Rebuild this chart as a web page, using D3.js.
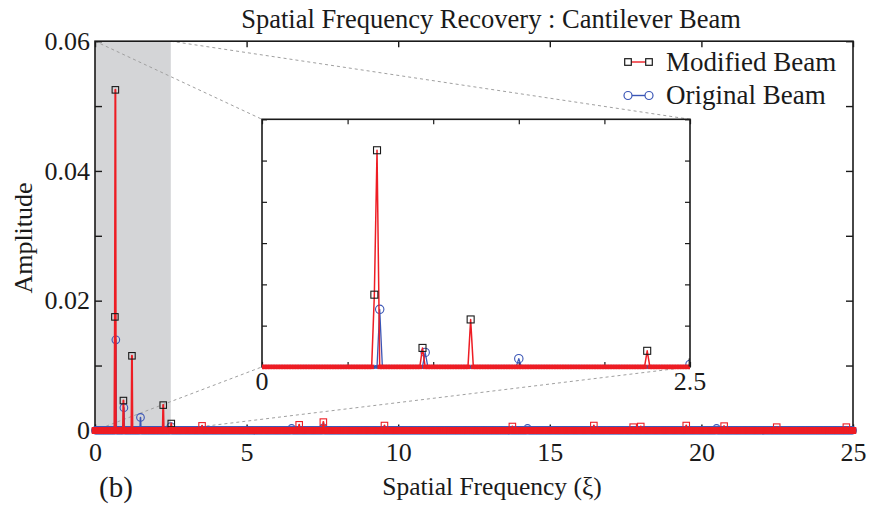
<!DOCTYPE html>
<html>
<head>
<meta charset="utf-8">
<script src="https://cdn.jsdelivr.net/npm/d3@7"></script>
<style>
  html, body { margin: 0; padding: 0; background: #fff; }
  svg { display: block; font-family: "Liberation Serif", "Times New Roman", serif; }
</style>
</head>
<body>
<svg id="chart" width="874" height="510"></svg>
<script>
// Sampling step of the spatial-frequency grid
const freqStep = 1 / 64;
const freqMax = 25;

// Modified beam: non-zero spectral lines (frequency, amplitude)
const modPeakFreq = [0.656, 0.672, 0.9375, 1.219, 2.25, 2.516, 3.531, 6.734, 7.531, 9.547,
                     13.766, 16.45, 17.75, 18.0, 19.5, 20.75, 22.48, 24.78];
const modPeakAmp  = [0.0175, 0.0525, 0.0046, 0.0115, 0.0039, 0.00106, 0.0007, 0.00086, 0.00128, 0.00075,
                     0.0006, 0.00075, 0.0005, 0.0006, 0.00075, 0.00066, 0.0005, 0.0005];

// Original beam: non-zero spectral lines
const origPeakFreq = [0.6875, 0.953, 1.5, 2.5, 6.48, 7.53, 14.27, 20.5];
const origPeakAmp  = [0.01396, 0.0035, 0.002, 0.0006, 0.0003, 0.0004, 0.0003, 0.0003];

// Axis ticks and labels
const xTicks = [0, 5, 10, 15, 20, 25];
const yTicks = [0, 0.01, 0.02, 0.03, 0.04, 0.05, 0.06];
const yLabels = [0, 0.02, 0.04, 0.06];
const insetXTicks = [0, 0.5, 1, 1.5, 2, 2.5];
const insetXLabels = [0, 2.5];
const insetYTicks = [0, 0.01, 0.02, 0.03, 0.04, 0.05, 0.06];
const zoomRange = [0, 2.5];

const seriesNames = ["Modified Beam", "Original Beam"];
const titleText = "Spatial Frequency Recovery : Cantilever Beam";

const RED = "#ee1d24", BLUE = "#3b56b6", BLACK = "#1a1a1a";

// Spectrum on the frequency grid: zero everywhere except the listed lines
const freqGrid = d3.range(0, freqMax + freqStep / 2, freqStep);
function spectrum(freqs, amps) {
  const vals = freqGrid.map(() => 0);
  freqs.forEach((f, i) => { vals[Math.round(f / freqStep)] = amps[i]; });
  return freqGrid.map((f, i) => ({ f, v: vals[i] }));
}
const modified = spectrum(modPeakFreq, modPeakAmp);
const original = spectrum(origPeakFreq, origPeakAmp);

const svg = d3.select("#chart");

// ---- main axes ----
const x = d3.scaleLinear().domain([0, 25]).range([95, 853]);
const y = d3.scaleLinear().domain([0, 0.06]).range([430.4, 41.2]);

// shaded zoom window
svg.append("rect")
  .attr("x", x(zoomRange[0])).attr("y", y(0.06))
  .attr("width", x(zoomRange[1]) - x(zoomRange[0]))
  .attr("height", y(0) - y(0.06))
  .attr("fill", "#d4d5d7");

// ---- inset scales ----
const xi = d3.scaleLinear().domain(zoomRange).range([262, 690]);
const yi = d3.scaleLinear().domain([0, 0.06]).range([366.9, 119.3]);

// dashed connectors between zoom window and inset
const connectors = [
  [[x(zoomRange[0]), y(0.06)], [xi(zoomRange[0]), yi(0.06)]],
  [[x(zoomRange[1]), y(0.06)], [xi(zoomRange[1]), yi(0.06)]],
  [[x(zoomRange[0]), y(0)], [xi(zoomRange[0]), yi(0)]],
  [[x(zoomRange[1]), y(0)], [xi(zoomRange[1]), yi(0)]]
];
svg.append("g").selectAll("line").data(connectors).join("line")
  .attr("x1", d => d[0][0]).attr("y1", d => d[0][1])
  .attr("x2", d => d[1][0]).attr("y2", d => d[1][1])
  .attr("stroke", "#a0a0a0").attr("stroke-width", 1)
  .attr("stroke-dasharray", "3,3");

// draws one stem-like spectrum (line + markers) into a group
function drawSeries(g, data, sx, sy, opt) {
  g.append("path")
    .datum(data)
    .attr("fill", "none")
    .attr("stroke", opt.lineColor)
    .attr("stroke-width", opt.lineWidth)
    .attr("stroke-linejoin", "round")
    .attr("d", d3.line().x(d => sx(d.f)).y(d => sy(d.v)));
  if (opt.shape === "square") {
    g.append("g").selectAll("rect").data(data).join("rect")
      .attr("x", d => sx(d.f) - opt.size(d) / 2)
      .attr("y", d => sy(d.v) - opt.size(d) / 2)
      .attr("width", d => opt.size(d))
      .attr("height", d => opt.size(d))
      .attr("fill", d => d.v > 0 ? "none" : RED)
      .attr("stroke", d => opt.markerColor(d))
      .attr("stroke-width", 1.1);
  } else {
    g.append("g").selectAll("circle").data(data).join("circle")
      .attr("cx", d => sx(d.f))
      .attr("cy", d => sy(d.v))
      .attr("r", d => opt.size(d))
      .attr("fill", "none")
      .attr("stroke", BLUE)
      .attr("stroke-width", 1.1);
  }
}

// main axes frame and inward ticks (drawn beneath the data)
const axes = svg.append("g").attr("font-size", 26).attr("fill", BLACK);
axes.append("rect")
  .attr("x", x(0)).attr("y", y(0.06))
  .attr("width", x(25) - x(0)).attr("height", y(0) - y(0.06))
  .attr("fill", "none").attr("stroke", BLACK).attr("stroke-width", 1.6);
function tickAxis(axisGen, transform) {
  const g = axes.append("g").attr("transform", transform).call(axisGen);
  g.select(".domain").remove();
  g.selectAll(".tick line").attr("stroke", BLACK).attr("stroke-width", 1.4);
  return g;
}
tickAxis(d3.axisBottom(x).tickValues(xTicks).tickSize(-6).tickFormat(""), `translate(0,${y(0)})`);
tickAxis(d3.axisTop(x).tickValues(xTicks).tickSize(-6).tickFormat(""), `translate(0,${y(0.06)})`);
tickAxis(d3.axisLeft(y).tickValues(yTicks).tickSize(-7).tickFormat(""), `translate(${x(0)},0)`);
tickAxis(d3.axisRight(y).tickValues(yTicks).tickSize(-7).tickFormat(""), `translate(${x(25)},0)`);

// tick labels
const xl = axes.append("g").attr("transform", `translate(0,${y(0)})`)
  .call(d3.axisBottom(x).tickValues(xTicks).tickSize(0).tickPadding(12).tickFormat(d3.format("d")));
xl.select(".domain").remove();
xl.selectAll("text").attr("font-size", 26).attr("font-family", "Liberation Serif").attr("fill", BLACK);

const yl = axes.append("g").attr("transform", `translate(${x(0)},0)`)
  .call(d3.axisLeft(y).tickValues(yLabels).tickSize(0).tickPadding(5)
    .tickFormat(d => d === 0 ? "0" : d3.format(".2f")(d)));
yl.select(".domain").remove();
yl.selectAll("text").attr("font-size", 26).attr("font-family", "Liberation Serif").attr("fill", BLACK);

// main spectra
const mainG = svg.append("g");
drawSeries(mainG, original, x, y, {
  lineColor: BLUE, lineWidth: 1.6, shape: "circle",
  size: d => d.v > 0 ? 3.8 : 3.3
});
drawSeries(mainG, modified, x, y, {
  lineColor: RED, lineWidth: 2, shape: "square",
  size: d => d.v > 0 ? 6.5 : 5.6,
  markerColor: d => (d.v > 0 && d.f < 2.6) ? BLACK : RED
});

// ---- inset ----
const inset = svg.append("g");
inset.append("rect")
  .attr("x", xi(0)).attr("y", yi(0.06))
  .attr("width", xi(2.5) - xi(0)).attr("height", yi(0) - yi(0.06))
  .attr("fill", "#fff").attr("stroke", BLACK).attr("stroke-width", 1.6);

function insetTicks(axisGen, transform) {
  const g = inset.append("g").attr("transform", transform).call(axisGen);
  g.select(".domain").remove();
  g.selectAll(".tick line").attr("stroke", BLACK).attr("stroke-width", 1.2);
}
insetTicks(d3.axisBottom(xi).tickValues(insetXTicks).tickSize(-5).tickFormat(""), `translate(0,${yi(0)})`);
insetTicks(d3.axisTop(xi).tickValues(insetXTicks).tickSize(-5).tickFormat(""), `translate(0,${yi(0.06)})`);
insetTicks(d3.axisLeft(yi).tickValues(insetYTicks).tickSize(-5).tickFormat(""), `translate(${xi(0)},0)`);
insetTicks(d3.axisRight(yi).tickValues(insetYTicks).tickSize(-5).tickFormat(""), `translate(${xi(2.5)},0)`);

svg.append("defs").append("clipPath").attr("id", "insetClip")
  .append("rect")
  .attr("x", xi(0)).attr("y", yi(0.06))
  .attr("width", xi(2.5) - xi(0)).attr("height", yi(0) - yi(0.06) + 6);

const insetData = d => d.f <= 2.6;
const insetG = inset.append("g").attr("clip-path", "url(#insetClip)");
drawSeries(insetG, original.filter(insetData), xi, yi, {
  lineColor: BLUE, lineWidth: 1.3, shape: "circle",
  size: d => d.v > 0 ? 4.2 : 1.6
});
drawSeries(insetG, modified.filter(insetData), xi, yi, {
  lineColor: RED, lineWidth: 1.5, shape: "square",
  size: d => d.v > 0 ? 7 : 3.4,
  markerColor: d => d.v > 0 ? BLACK : RED
});

inset.append("g").selectAll("text").data(insetXLabels).join("text")
  .attr("x", d => xi(d)).attr("y", yi(0) + 23)
  .attr("text-anchor", "middle")
  .attr("font-size", 26).attr("fill", BLACK)
  .text(d => d3.format("~g")(d));

// ---- titles ----
svg.append("text")
  .attr("x", 491).attr("y", 28)
  .attr("text-anchor", "middle").attr("font-size", 26.5).attr("fill", BLACK)
  .text(titleText);

svg.append("text")
  .attr("x", 492).attr("y", 495)
  .attr("text-anchor", "middle").attr("font-size", 25.5).attr("fill", BLACK)
  .text("Spatial Frequency (ξ)");

svg.append("text")
  .attr("transform", "translate(32,238) rotate(-90)")
  .attr("text-anchor", "middle").attr("font-size", 26).attr("fill", BLACK)
  .text("Amplitude");

svg.append("text")
  .attr("x", 116).attr("y", 497)
  .attr("text-anchor", "middle").attr("font-size", 29).attr("fill", BLACK)
  .text("(b)");

// ---- legend ----
const legend = svg.append("g");
const legendRows = [
  { name: seriesNames[0], y: 62, shape: "square" },
  { name: seriesNames[1], y: 95.5, shape: "circle" }
];
legendRows.forEach(r => {
  const g = legend.append("g");
  g.append("line").attr("x1", 628).attr("x2", 649).attr("y1", r.y).attr("y2", r.y)
    .attr("stroke", r.shape === "square" ? RED : BLUE).attr("stroke-width", 1.4);
  [628, 649].forEach(cx => {
    if (r.shape === "square") {
      g.append("rect").attr("x", cx - 3.3).attr("y", r.y - 3.3).attr("width", 6.6).attr("height", 6.6)
        .attr("fill", "#fff").attr("stroke", BLACK).attr("stroke-width", 1.2);
    } else {
      g.append("circle").attr("cx", cx).attr("cy", r.y).attr("r", 4)
        .attr("fill", "#fff").attr("stroke", BLUE).attr("stroke-width", 1.2);
    }
  });
  g.append("text").attr("x", 666).attr("y", r.y + 8.5)
    .attr("font-size", 27).attr("fill", BLACK).text(r.name);
});
</script>
</body>
</html>
